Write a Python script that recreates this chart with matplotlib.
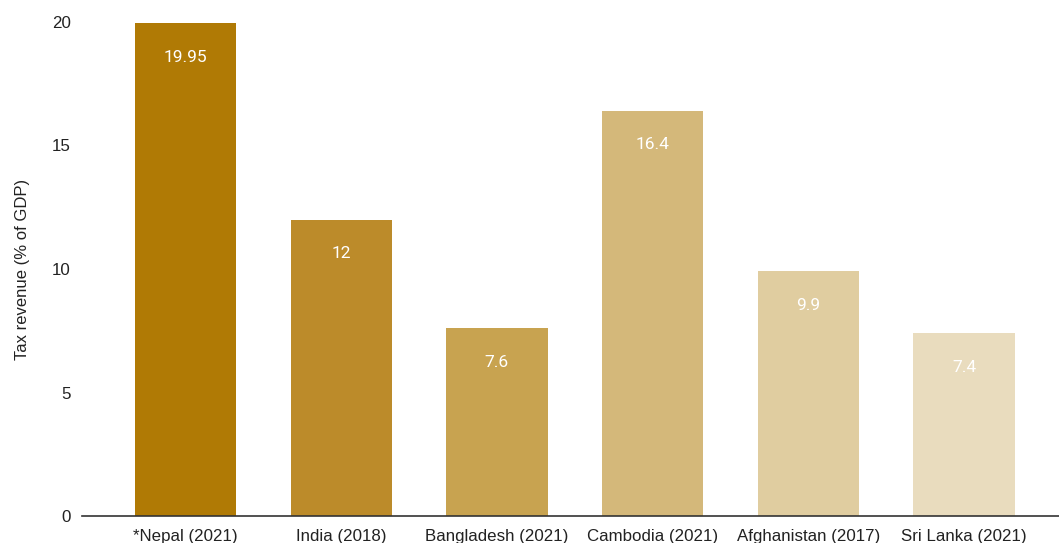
import numpy as np
import matplotlib
matplotlib.use("Agg")
import matplotlib.pyplot as plt

countries = ["*Nepal (2021)", "India (2018)", "Bangladesh (2021)",
             "Cambodia (2021)", "Afghanistan (2017)", "Sri Lanka (2021)"]
tax_revenue = [19.95, 12, 7.6, 16.4, 9.9, 7.4]
value_labels = ["19.95", "12", "7.6", "16.4", "9.9", "7.4"]
bar_colors = ["#B07A05", "#BC8B2A", "#C8A350", "#D4B87A", "#E0CDA0", "#E9DCBE"]
y_ticks = [0, 5, 10, 15, 20]

plt.rcParams['font.family'] = ['Liberation Sans', 'DejaVu Sans']

fig = plt.figure(figsize=(10.59, 5.43), dpi=100)
ax = fig.add_axes([0.0774, 0.0497, 0.9226, 0.9098])

x = np.arange(len(countries))
ax.bar(x, tax_revenue, width=0.65, color=bar_colors, zorder=2)

for xi, v, lab in zip(x, tax_revenue, value_labels):
    ax.annotate(lab, (xi, v), xytext=(0, -34), textcoords="offset pixels",
                ha="center", va="center", color="white", fontsize=12.5,
                family=["Roboto", "DejaVu Sans"])

ax.set_xlim(-0.665, 5.61)
ax.set_ylim(0, 20)
ax.set_yticks(y_ticks)
ax.set_yticklabels([str(t) for t in y_ticks], fontsize=12.2, color="#222222")
ax.set_xticks(x)
ax.set_xticklabels(countries, fontsize=12.2, color="#222222")
ax.tick_params(axis="both", length=0)
ax.tick_params(axis="x", pad=9)
ax.tick_params(axis="y", pad=8)
ax.set_ylabel("Tax revenue (% of GDP)", fontsize=12, color="#222222", labelpad=16)

for s in ["top", "right", "left"]:
    ax.spines[s].set_visible(False)
ax.spines["bottom"].set_color("#333333")
ax.spines["bottom"].set_linewidth(1.2)
ax.spines["bottom"].set_zorder(3)

fig.savefig("out.png", dpi=100)
